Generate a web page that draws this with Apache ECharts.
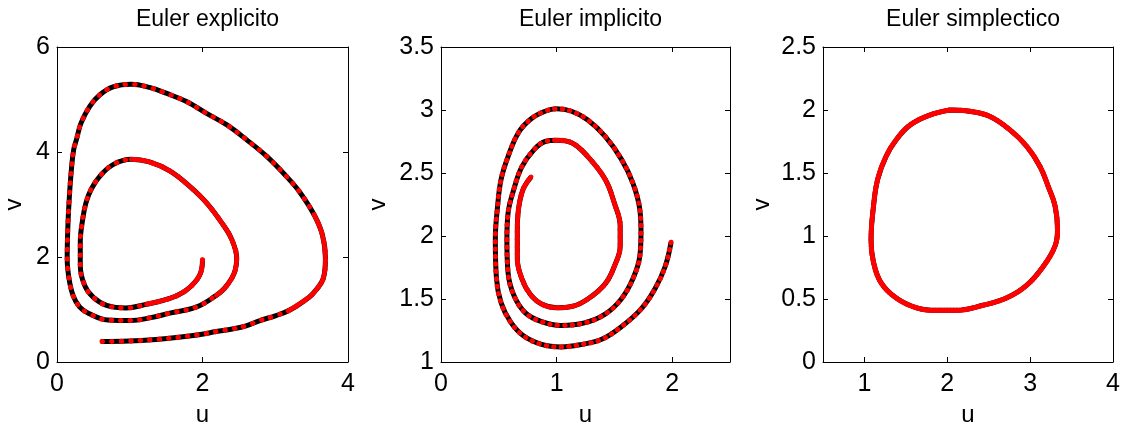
<!DOCTYPE html>
<html>
<head>
<meta charset="utf-8">
<script src="https://cdn.jsdelivr.net/npm/echarts@6/dist/echarts.min.js"></script>
<style>
  html, body { margin: 0; padding: 0; background: #fff; }
  #chart { width: 1125px; height: 432px; }
</style>
</head>
<body>
<div id="chart"></div>
<script>
// values, in trajectory order
const explicitU = [2.00, 1.96, 1.78, 1.55, 1.23, 0.95, 0.68, 0.50, 0.38, 0.32, 0.32, 0.35, 0.40, 0.47, 0.59, 0.77,
  1.02, 1.27, 1.55, 1.82, 2.05, 2.26, 2.40, 2.47, 2.45, 2.40, 2.30, 2.19, 1.92, 1.55, 1.27, 1.02, 0.70, 0.43,
  0.31, 0.22, 0.165, 0.14, 0.15, 0.17, 0.20, 0.23, 0.27, 0.33, 0.45, 0.59, 0.77, 1.02, 1.27, 1.50, 1.78, 2.05,
  2.33, 2.60, 2.88, 3.15, 3.34, 3.54, 3.65, 3.69, 3.66, 3.56, 3.47, 3.20, 3.00, 2.79, 2.60, 2.41, 2.19, 1.95,
  1.67, 1.36, 0.99, 0.60];
const explicitV = [1.95, 1.65, 1.37, 1.21, 1.10, 1.03, 1.08, 1.23, 1.46, 1.84, 2.28, 2.69, 3.04, 3.29, 3.54, 3.76,
  3.86, 3.81, 3.64, 3.35, 3.04, 2.66, 2.34, 1.97, 1.75, 1.59, 1.40, 1.27, 1.05, 0.93, 0.84, 0.79, 0.80, 0.93,
  1.05, 1.27, 1.59, 1.97, 2.60, 3.15, 3.70, 4.05, 4.25, 4.55, 4.87, 5.09, 5.24, 5.29, 5.23, 5.12, 4.96, 4.74,
  4.52, 4.24, 3.92, 3.54, 3.23, 2.79, 2.41, 1.97, 1.59, 1.37, 1.24, 0.99, 0.88, 0.79, 0.69, 0.63, 0.58, 0.52,
  0.47, 0.43, 0.40, 0.39];

const implicitU = [1.99, 1.94, 1.85, 1.73, 1.56, 1.39, 1.22, 1.04, 0.87, 0.71, 0.60, 0.52, 0.48, 0.47, 0.49, 0.52,
  0.58, 0.67, 0.78, 0.90, 1.00, 1.13, 1.27, 1.42, 1.56, 1.66, 1.72, 1.73, 1.72, 1.66, 1.56, 1.42, 1.24, 1.04,
  0.87, 0.73, 0.63, 0.58, 0.57, 0.58, 0.63, 0.70, 0.80, 0.90, 1.00, 1.13, 1.27, 1.42, 1.50, 1.55, 1.55, 1.50,
  1.42, 1.27, 1.13, 1.00, 0.87, 0.77, 0.70, 0.66, 0.66, 0.67, 0.71, 0.78];
const implicitV = [1.95, 1.76, 1.58, 1.42, 1.28, 1.18, 1.14, 1.12, 1.14, 1.21, 1.32, 1.47, 1.66, 1.97, 2.24, 2.45,
  2.63, 2.82, 2.93, 2.99, 3.01, 2.99, 2.92, 2.79, 2.61, 2.42, 2.21, 2.03, 1.84, 1.66, 1.50, 1.38, 1.31, 1.29,
  1.32, 1.39, 1.53, 1.71, 1.97, 2.18, 2.37, 2.55, 2.68, 2.75, 2.76, 2.74, 2.63, 2.45, 2.26, 2.08, 1.92, 1.76,
  1.62, 1.50, 1.44, 1.43, 1.46, 1.54, 1.66, 1.82, 2.03, 2.21, 2.37, 2.47];

const symplecticU = [2.03, 1.79, 1.55, 1.38, 1.26, 1.16, 1.11, 1.08, 1.11, 1.20, 1.38, 1.63, 1.87, 2.11, 2.43, 2.72,
  2.96, 3.16, 3.30, 3.33, 3.30, 3.22, 3.12, 2.96, 2.76, 2.51, 2.27, 2.03];
const symplecticV = [2.00, 1.96, 1.88, 1.76, 1.63, 1.45, 1.24, 0.97, 0.79, 0.63, 0.51, 0.43, 0.41, 0.41, 0.45, 0.51,
  0.61, 0.76, 0.92, 1.05, 1.24, 1.39, 1.55, 1.71, 1.84, 1.95, 1.99, 2.00];

const titles = ['Euler explicito', 'Euler implicito', 'Euler simplectico'];
const xRanges = [[0, 4], [0, 2.5], [0.5, 4]];
const yRanges = [[0, 6, 2], [1, 3.5, 0.5], [0, 2.5, 0.5]];
const xTickValues = [[0, 2, 4], [0, 1, 2], [1, 2, 3, 4]];
const yNameGaps = [31, 51, 49];
// stretches where the red markers run together (index ranges into the arrays above)
const denseRuns = [[[0, 4], [16, 27], [57, 63]], [[44, 64]], [[0, 28]]];

const font = "'Liberation Sans', Arial, sans-serif";
const grids = [
  { left: 57, top: 47, width: 291, height: 317 },
  { left: 441, top: 47, width: 289, height: 317 },
  { left: 823, top: 47, width: 290, height: 317 }
];
const curves = [
  explicitU.map((u, i) => [u, explicitV[i]]),
  implicitU.map((u, i) => [u, implicitV[i]]),
  symplecticU.map((u, i) => [u, symplecticV[i]])
];
const dotGap = [9, 7, 2.5];

const lineBlack = { color: '#000', width: 1 };
const xAxes = [];
const yAxes = [];
const series = [];

grids.forEach((g, i) => {
  ['bottom', 'top'].forEach(pos => {
    const main = pos === 'bottom';
    xAxes.push({
      type: 'value', gridIndex: i, position: pos,
      min: xRanges[i][0], max: xRanges[i][1],
      axisLine: { show: true, onZero: false, lineStyle: lineBlack },
      axisTick: { inside: true, length: 5, lineStyle: lineBlack, customValues: xTickValues[i] },
      axisLabel: { show: main, color: '#000', fontSize: 25, fontFamily: font, margin: 10, customValues: xTickValues[i] },
      splitLine: { show: false },
      name: main ? 'u' : '', nameLocation: 'middle', nameGap: 41,
      nameTextStyle: { color: '#000', fontSize: 24, fontFamily: font }
    });
  });
  ['left', 'right'].forEach(pos => {
    const main = pos === 'left';
    yAxes.push({
      type: 'value', gridIndex: i, position: pos,
      min: yRanges[i][0], max: yRanges[i][1], interval: yRanges[i][2],
      axisLine: { show: true, onZero: false, lineStyle: lineBlack },
      axisTick: { inside: true, length: 5, lineStyle: lineBlack },
      axisLabel: { show: main, color: '#000', fontSize: 25, fontFamily: font, margin: 7 },
      splitLine: { show: false },
      name: main ? 'v' : '', nameLocation: 'middle', nameGap: yNameGaps[i],
      nameTextStyle: { color: '#000', fontSize: 24, fontFamily: font }
    });
  });
  series.push({
    type: 'line', xAxisIndex: 2 * i, yAxisIndex: 2 * i, data: curves[i],
    smooth: 0.4, symbol: 'none', silent: true, z: 2,
    lineStyle: { color: '#000', width: 5 }
  });
  series.push({
    type: 'line', xAxisIndex: 2 * i, yAxisIndex: 2 * i, data: curves[i],
    smooth: 0.4, symbol: 'none', silent: true, z: 3,
    lineStyle: { color: '#ff0000', width: 5, type: [0.5, dotGap[i]], cap: 'round' }
  });
  denseRuns[i].forEach(([a, b]) => {
    series.push({
      type: 'line', xAxisIndex: 2 * i, yAxisIndex: 2 * i, data: curves[i].slice(a, b + 1),
      smooth: 0.4, symbol: 'none', silent: true, z: 4,
      lineStyle: { color: '#ff0000', width: 4.5, cap: 'round' }
    });
  });
});

const chart = echarts.init(document.getElementById('chart'));
chart.setOption({
  animation: false,
  backgroundColor: '#fff',
  title: titles.map((t, i) => ({
    text: t,
    left: grids[i].left + grids[i].width / 2,
    top: 3,
    textAlign: 'center',
    textStyle: { color: '#000', fontSize: 23, fontWeight: 'normal', fontFamily: font }
  })),
  grid: grids,
  xAxis: xAxes,
  yAxis: yAxes,
  series: series
});
</script>
</body>
</html>
